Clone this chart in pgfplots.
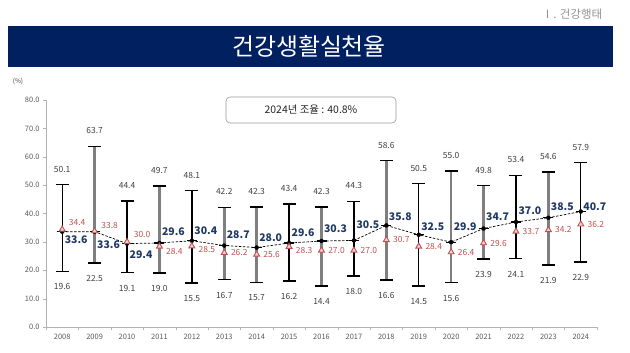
\documentclass[border=0pt]{standalone}
\usepackage{fontspec}
\setmainfont{Noto Sans CJK KR}
\usepackage{pgfplots}
\usepackage{pgfplotstable}
\pgfplotsset{compat=1.18}
\definecolor{navy}{HTML}{002060}
\definecolor{bluelab}{HTML}{1F3864}
\definecolor{redc}{HTML}{C0504D}
\definecolor{txt}{HTML}{404040}
\definecolor{tick}{HTML}{595959}
\definecolor{barg}{HTML}{7F7F7F}

\pgfplotstableread{
x year mean hi lo tri mdy tdy
0 2008 33.6 50.1 19.6 34.4 -8 7
1 2009 33.6 63.7 22.5 33.8 -13 6
2 2010 29.4 44.4 19.1 30.0 -11 7
3 2011 29.6 49.7 19.0 28.4 11 -5
4 2012 30.4 48.1 15.5 28.5 10 -3
5 2013 28.7 42.2 16.7 26.2 11 0
6 2014 28.0 42.3 15.7 25.6 10 0
7 2015 29.6 43.4 16.2 28.3 10 -4
8 2016 30.3 42.3 14.4 27.0 12 0
9 2017 30.5 44.3 18.0 27.0 16 0
10 2018 35.8 58.6 16.6 30.7 9 0
11 2019 32.5 50.5 14.5 28.4 8 0
12 2020 29.9 55.0 15.6 26.4 15 0
13 2021 34.7 49.8 23.9 29.6 12 0
14 2022 37.0 53.4 24.1 33.7 11 0
15 2023 38.5 54.6 21.9 34.2 11 0
16 2024 40.7 57.9 22.9 36.2 5 0
}\data

\pgfplotstableread{
x mean hi lo
0 33.6 50.1 19.6
2 29.4 44.4 19.1
4 30.4 48.1 15.5
7 29.6 43.4 16.2
9 30.5 44.3 18.0
11 32.5 50.5 14.5
14 37.0 53.4 24.1
16 40.7 57.9 22.9
}\blackbars

\pgfplotstableread{
x mean hi lo
1 33.6 63.7 22.5
3 29.6 49.7 19.0
5 28.7 42.2 16.7
6 28.0 42.3 15.7
8 30.3 42.3 14.4
10 35.8 58.6 16.6
12 29.9 55.0 15.6
13 34.7 49.8 23.9
15 38.5 54.6 21.9
}\graybars

\begin{document}
\begin{tikzpicture}
\path[use as bounding box] (0,0) rectangle (630bp,353bp);
% banner
\fill[navy] (8bp,286bp) rectangle (613bp,327bp);
\node[text=white, font=\fontsize{24}{26}\selectfont] at (309bp,306.5bp) {건강생활실천율};
\node[text=gray!85, font=\fontsize{11.5}{13}\selectfont] at (572bp,339bp) {Ⅰ. 건강행태};
\node[text=txt, font=\fontsize{6.5}{7}\selectfont] at (18bp,272bp) {(\%)};
% info box
\draw[rounded corners=4bp, gray!80, line width=0.6pt] (226bp,230bp) rectangle (396bp,256bp);
\node[text=black!85, font=\fontsize{10.5}{12}\selectfont] at (311bp,243bp) {2024년 조율 : 40.8\%};

\begin{axis}[
  at={(46bp,26bp)}, anchor=south west,
  scale only axis, width=551bp, height=227bp,
  xmin=-0.5, xmax=16.5, ymin=0, ymax=80,
  axis x line*=bottom, axis y line*=left,
  axis line style={gray!60, line width=0.5pt},
  ytick={0,10,...,80},
  yticklabel style={/pgf/number format/.cd, fixed, fixed zerofill, precision=1, assume math mode=true},
  xtick={0,...,16},
  xticklabels={2008,2009,2010,2011,2012,2013,2014,2015,2016,2017,2018,2019,2020,2021,2022,2023,2024},
  minor xtick={-0.5,0.5,...,16.5},
  major x tick style={draw=none},
  minor x tick style={gray!60},
  y tick style={gray!60},
  tick align=outside,
  major tick length=3bp, minor tick length=3bp,
  ticklabel style={font=\fontsize{7.5}{8.5}\selectfont, text=tick},
  xticklabel style={yshift=-1bp},
  clip=false,
]
% error bars
\addplot[only marks, mark=none, forget plot,
  error bars/.cd, y dir=both, y explicit,
  error bar style={line width=1.3pt, black},
  error mark options={rotate=90, line width=1.3pt, mark size=6.5bp, black}]
  table[x=x, y=mean, y error plus expr=\thisrow{hi}-\thisrow{mean}, y error minus expr=\thisrow{mean}-\thisrow{lo}] {\blackbars};
\addplot[only marks, mark=none, forget plot,
  error bars/.cd, y dir=both, y explicit,
  error bar style={line width=2.6pt, barg},
  error mark options={rotate=90, line width=1.4pt, mark size=6.5bp, black}]
  table[x=x, y=mean, y error plus expr=\thisrow{hi}-\thisrow{mean}, y error minus expr=\thisrow{mean}-\thisrow{lo}] {\graybars};
% mean line
\addplot[black, line width=0.7pt, dash pattern=on 2.5pt off 1.5pt, mark=-, mark size=5bp, mark options={solid, line width=1.1pt}]
  table[x=x, y=mean] {\data};
% triangles
\addplot[only marks, mark=triangle*, mark size=3.4bp, mark options={draw=redc, fill=redc!25, line width=0.9pt}]
  table[x=x, y=tri] {\data};
% upper labels
\addplot[draw=none, nodes near coords, point meta=explicit symbolic,
  nodes near coords style={anchor=center, yshift=15.5bp, text=txt, font=\fontsize{8.5}{10}\selectfont, inner sep=0pt}]
  table[x=x, y=hi, meta=hi] {\data};
% lower labels
\addplot[draw=none, nodes near coords, point meta=explicit symbolic,
  nodes near coords style={anchor=center, yshift=-15.5bp, text=txt, font=\fontsize{8.5}{10}\selectfont, inner sep=0pt}]
  table[x=x, y=lo, meta=lo] {\data};
% mean labels
\addplot[draw=none, nodes near coords, point meta=explicit symbolic,
  visualization depends on={\thisrow{mdy} \as \mdy},
  nodes near coords style={anchor=center, xshift=14bp, yshift=\mdy*1bp, text=bluelab, font=\bfseries\fontsize{10.5}{12}\selectfont, inner sep=0pt}]
  table[x=x, y=mean, meta=mean] {\data};
% triangle labels
\addplot[draw=none, nodes near coords, point meta=explicit symbolic,
  visualization depends on={\thisrow{tdy} \as \tdy},
  nodes near coords style={anchor=center, xshift=15bp, yshift=\tdy*1bp, text=redc, font=\fontsize{8.5}{10}\selectfont, inner sep=0pt}]
  table[x=x, y=tri, meta=tri] {\data};
\end{axis}
\end{tikzpicture}
\end{document}
